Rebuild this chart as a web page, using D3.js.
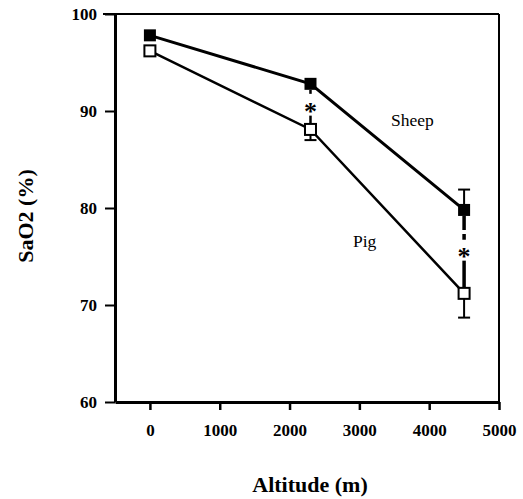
<!DOCTYPE html>
<html lang="en">
<head>
<meta charset="UTF-8">
<title>SaO2 vs altitude</title>
<script src="https://d3js.org/d3.v7.min.js"></script>
<style>
body { margin: 0; background: #fff; }
.axis text { font-family: "Liberation Serif", serif; font-weight: bold; font-size: 17px; fill: #000; }
.axis path, .axis line { stroke: #000; }
.lbl { font-family: "Liberation Serif", serif; font-size: 17.5px; fill: #000; }
.title { font-family: "Liberation Serif", serif; font-weight: bold; font-size: 22px; fill: #000; }
</style>
</head>
<body>
<script>
// data
var altitude = [0, 2300, 4500];
var sheep = [97.8, 92.8, 79.8];
var pig = [96.2, 88.1, 71.2];
var sheepErrUp = [0, 0, 2.1];
var pigErrDown = [0, 1.1, 2.5];
var signif = [1, 2];          // indices marked with *
var xTicks = [0, 1000, 2000, 3000, 4000, 5000];
var yTicks = [60, 70, 80, 90, 100];

var width = 523, height = 499;
var svg = d3.select("body").append("svg")
    .attr("width", width).attr("height", height);

var x = d3.scaleLinear().domain([-500, 5000]).range([115, 499]);
var y = d3.scaleLinear().domain([60, 100]).range([402, 14]);

// frame top & right
svg.append("line").attr("x1", 103).attr("x2", 499).attr("y1", y(100)).attr("y2", y(100))
    .attr("stroke", "#000").attr("stroke-width", 2);
svg.append("line").attr("x1", 499).attr("x2", 499).attr("y1", y(100)).attr("y2", y(60))
    .attr("stroke", "#000").attr("stroke-width", 2);

var xAxis = svg.append("g").attr("class", "axis")
    .attr("transform", "translate(0," + y(60) + ")")
    .call(d3.axisBottom(x).tickValues(xTicks).tickFormat(d3.format("d"))
        .tickSize(8).tickPadding(14).tickSizeOuter(0));
xAxis.select(".domain").attr("stroke-width", 3);
xAxis.selectAll(".tick line").attr("stroke-width", 2.5);

var yAxis = svg.append("g").attr("class", "axis")
    .attr("transform", "translate(" + x(-500) + ",0)")
    .call(d3.axisLeft(y).tickValues(yTicks).tickSize(10).tickPadding(8).tickSizeOuter(0));
yAxis.select(".domain").attr("stroke-width", 3);
yAxis.selectAll(".tick line").attr("stroke-width", 2);
yAxis.selectAll(".tick text").attr("dy", "0.35em");

var line = d3.line().x(function(d) { return x(d[0]); }).y(function(d) { return y(d[1]); });

// error bars
function errBar(xi, v0, v1) {
    svg.append("line").attr("x1", x(xi)).attr("x2", x(xi)).attr("y1", y(v0)).attr("y2", y(v1))
        .attr("stroke", "#000").attr("stroke-width", 2);
    svg.append("line").attr("x1", x(xi) - 6).attr("x2", x(xi) + 6).attr("y1", y(v1)).attr("y2", y(v1))
        .attr("stroke", "#000").attr("stroke-width", 2);
}
altitude.forEach(function(a, i) {
    if (sheepErrUp[i] > 0) errBar(a, sheep[i], sheep[i] + sheepErrUp[i]);
    if (pigErrDown[i] > 0) errBar(a, pig[i], pig[i] - pigErrDown[i]);
});

// significance bars with asterisk
signif.forEach(function(i) {
    var xs = x(altitude[i]);
    var top = y(sheep[i]) + 6, bot = y(pig[i]) - 6;
    var mid = (top + bot) / 2;
    var w = i === 2 ? 3.5 : 2.5;
    svg.append("line").attr("x1", xs).attr("x2", xs).attr("y1", top).attr("y2", mid - 12)
        .attr("stroke", "#000").attr("stroke-width", w)
        .attr("stroke-dasharray", i === 2 ? "14,4" : "4,3");
    svg.append("line").attr("x1", xs).attr("x2", xs).attr("y1", mid + 9).attr("y2", bot)
        .attr("stroke", "#000").attr("stroke-width", w);
    svg.append("text").attr("class", "lbl").attr("x", xs).attr("y", mid + 13)
        .attr("text-anchor", "middle").style("font-size", "26px").style("font-weight", "bold").text("*");
});

var sheepPts = altitude.map(function(a, i) { return [a, sheep[i]]; });
var pigPts = altitude.map(function(a, i) { return [a, pig[i]]; });

svg.append("path").datum(sheepPts).attr("d", line)
    .attr("fill", "none").attr("stroke", "#000").attr("stroke-width", 3);
svg.append("path").datum(pigPts).attr("d", line)
    .attr("fill", "none").attr("stroke", "#000").attr("stroke-width", 2.5);

svg.selectAll(".sq-sheep").data(sheepPts).enter().append("rect")
    .attr("class", "sq-sheep")
    .attr("x", function(d) { return x(d[0]) - 6; })
    .attr("y", function(d) { return y(d[1]) - 6; })
    .attr("width", 12).attr("height", 12).attr("fill", "#000");

svg.selectAll(".sq-pig").data(pigPts).enter().append("rect")
    .attr("class", "sq-pig")
    .attr("x", function(d) { return x(d[0]) - 5.5; })
    .attr("y", function(d) { return y(d[1]) - 5.5; })
    .attr("width", 11).attr("height", 11)
    .attr("fill", "#fff").attr("stroke", "#000").attr("stroke-width", 2);

// series labels
svg.append("text").attr("class", "lbl").attr("x", 391).attr("y", 126).text("Sheep");
svg.append("text").attr("class", "lbl").attr("x", 353).attr("y", 247).text("Pig");

// axis titles
svg.append("text").attr("class", "title").attr("x", 310).attr("y", 492)
    .attr("text-anchor", "middle").text("Altitude (m)");
svg.append("text").attr("class", "title")
    .attr("transform", "translate(33,216) rotate(-90)")
    .attr("text-anchor", "middle").text("SaO2 (%)");
</script>
</body>
</html>
